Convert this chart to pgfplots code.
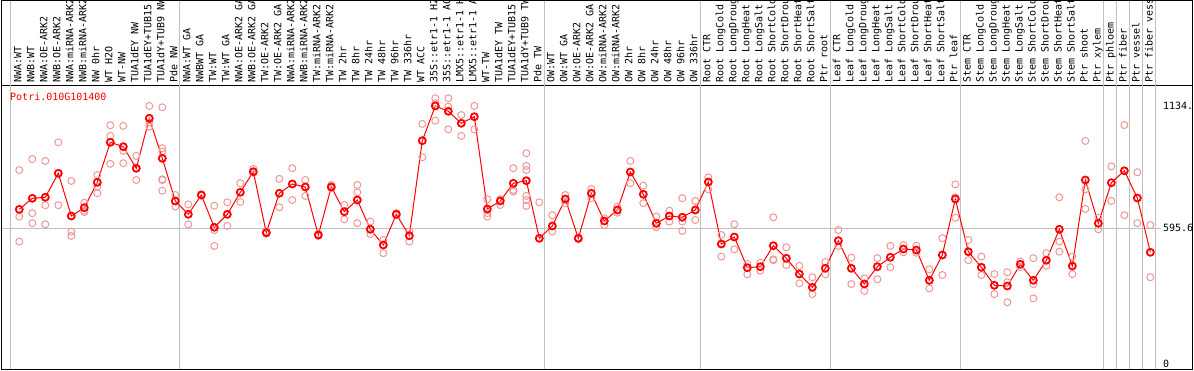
\documentclass[border=0pt]{standalone}
\usepackage{fontspec}
\setmonofont{DejaVu Sans Mono}
\usepackage{pgfplots}
\usepackage{pgfplotstable}
\pgfplotsset{compat=1.18}
\definecolor{repc}{RGB}{240,150,150}
\definecolor{sepc}{RGB}{192,192,192}

\pgfplotstableread{
x y
0 679
1 727.5
2 732
3 837.6
4 649.6
5 686.2
6 798
7 974
8 954.7
9 859.6
10 1079.7
11 903.6
12 715.6
13 657.1
14 742.1
15 600
16 657
17 754
18 844.6
19 576.2
20 749.6
21 790.5
22 777.3
23 566
24 777.3
25 668.6
26 720.1
27 591.1
28 522
29 657.1
30 563
31 981.1
32 1134
33 1110.5
34 1057.7
35 1086.7
36 680.5
37 715.6
38 793.6
39 805
40 551.5
41 605.7
42 724.5
43 551.5
44 749.6
45 627.6
46 676.1
47 843.3
48 745.2
49 617.5
50 649.6
51 644
52 676.1
53 799.3
54 526.4
55 557.2
56 422.1
57 426.5
58 519
59 463.5
60 394.4
61 335.8
62 419.4
63 541
64 419.4
65 350.4
66 426.5
67 467.9
68 504.4
69 500
70 366.6
71 478
72 724.5
73 492.5
74 424
75 344.6
76 341.5
77 437
78 366.6
79 454.7
80 591.1
81 429.6
82 808.1
83 617.5
84 796.2
85 848.6
86 728.9
87 489.9
}\means

\pgfplotstableread{
x y
0 852
0 647
0 537
1 900
1 662
1 618
2 892
2 697
2 613
3 974
3 697
4 804
4 581
4 562
5 708
5 673
5 667
6 830
6 779
6 750
7 1049
7 1002
7 879
8 1046
8 936
8 882
9 914
9 860
9 808
10 1134
10 1043
10 1062
11 1128
11 948
11 933
11 811
11 808
11 761
12 742
12 691
13 701
13 613
14 745
14 739
15 695
15 588
15 518
16 710
16 606
17 794
17 711
18 857
18 840
19 581
19 572
20 813
20 688
21 860
21 720
22 808
22 738
23 570
23 562
24 786
24 772
25 698
25 635
26 786
26 754
26 618
27 625
27 570
28 544
28 486
29 662
29 653
30 581
30 537
31 1055
31 908
32 1168
32 1146
32 1069
33 1168
33 1131
33 1031
34 1094
34 1002
35 1134
35 1031
36 723
36 662
36 647
37 723
37 698
38 860
38 764
38 757
39 926
39 870
39 852
39 738
39 720
39 694
40 710
40 551
41 653
41 581
42 742
42 706
43 555
43 548
44 769
44 728
45 640
45 610
46 691
46 664
47 892
47 794
48 783
48 706
49 647
49 600
50 673
50 625
51 728
51 625
51 584
52 716
52 632
53 820
53 767
54 566
54 471
55 613
55 503
56 438
56 393
57 444
57 409
58 644
58 459
58 455
59 512
59 434
60 430
60 353
61 380
61 306
62 447
62 393
63 588
63 518
64 466
64 350
65 375
65 320
66 464
66 371
67 518
67 424
68 522
68 490
69 519
69 488
70 415
70 331
71 552
71 390
72 789
72 732
72 642
73 544
73 455
74 471
74 390
75 394
75 306
76 402
76 358
76 270
77 449
77 425
78 464
78 350
78 287
79 486
79 431
80 732
80 537
80 493
81 471
81 394
82 980
82 767
82 681
83 642
83 591
84 868
84 716
85 1050
85 653
86 842
86 618
87 610
87 380
}\reps

\begin{document}
\begin{tikzpicture}[x=1pt,y=1pt]
\useasboundingbox (0,0) rectangle (1194,370);
\begin{axis}[
  at={(1.5pt,0.5pt)}, anchor=south west,
  scale only axis, width=1191pt, height=284pt,
  xmin=-1.369, xmax=90.246, ymin=-26, ymax=1224,
  axis line style={black, line width=1pt},
  xtick={0,...,87},
  xticklabels={NWA:WT, NWB:WT, NWA:OE-ARK2, NWB:OE-ARK2, NWA:miRNA-ARK2, NWB:miRNA-ARK2, NW 0hr, WT H2O, WT-NW, TUA1dEY NW, TUA1dEY+TUB15, TUA1dY+TUB9 NW, Pde NW,
    NWA:WT GA, NWBWT GA, TW:WT, TW:WT GA, NWA:OE-ARK2 GA, NWB:OE-ARK2 GA, TW:OE-ARK2, TW:OE-ARK2 GA, NWA:miRNA-ARK2, NWB:miRNA-ARK2, TW:miRNA-ARK2, TW:miRNA-ARK2, TW 2hr, TW 8hr, TW 24hr, TW 48hr, TW 96hr, TW 336hr, WT ACC, 35S::etr1-1 H2O, 35S::etr1-1 ACC, LMX5::etr1-1 H2O, LMX5::etr1-1 ACC, WT-TW, TUA1dEY TW, TUA1dEY+TUB15, TUA1dY+TUB9 TW, Pde TW,
    OW:WT, OW:WT GA, OW:OE-ARK2, OW:OE-ARK2 GA, OW:miRNA-ARK2, OW:miRNA-ARK2, OW 2hr, OW 8hr, OW 24hr, OW 48hr, OW 96hr, OW 336hr,
    Root CTR, Root LongCold, Root LongDrought, Root LongHeat, Root LongSalt, Root ShortCold, Root ShortDrought, Root ShortHeat, Root ShortSalt, Ptr root,
    Leaf CTR, Leaf LongCold, Leaf LongDrought, Leaf LongHeat, Leaf LongSalt, Leaf ShortCold, Leaf ShortDrought, Leaf ShortHeat, Leaf ShortSalt, Ptr leaf,
    Stem CTR, Stem LongCold, Stem LongDrought, Stem LongHeat, Stem LongSalt, Stem ShortCold, Stem ShortDrought, Stem ShortHeat, Stem ShortSalt, Ptr shoot, Ptr xylem,
    Ptr phloem, Ptr fiber, Ptr vessel, Ptr fiber vessel},
  xticklabel pos=upper,
  xticklabel style={rotate=90, anchor=mid west, font=\ttfamily\fontsize{10}{12}\selectfont, inner xsep=3pt, inner ysep=0pt, text=black},
  major tick length=0pt,
  ytick=\empty,
  clip=false,
]
\draw[sepc, line width=1pt] (axis cs:-1.369,595.6) -- (axis cs:87.82,595.6);
\pgfplotsinvokeforeach{-0.64,12.36,40.36,52.36,62.36,72.36,83.36,84.36,85.36,86.36,87.36}{
  \draw[sepc, line width=1pt] (axis cs:#1,-26) -- (axis cs:#1,1600.4);
}
\addplot[only marks, mark=o, mark size=3.5pt, color=repc, mark options={line width=1pt}] table {\reps};
\addplot[red, line width=1pt, mark=o, mark size=3.5pt, mark options={line width=1.8pt}] table {\means};
\node[anchor=west, inner sep=0pt, font=\ttfamily\fontsize{10}{12}\selectfont] at (axis cs:87.97,1134) {1134.};
\node[anchor=west, inner sep=0pt, font=\ttfamily\fontsize{10}{12}\selectfont] at (axis cs:87.97,595.6) {595.6};
\node[anchor=west, inner sep=0pt, font=\ttfamily\fontsize{10}{12}\selectfont] at (axis cs:87.97,0) {0};
\end{axis}
\node[anchor=west, inner sep=0pt, text=red, font=\ttfamily\fontsize{10}{12}\selectfont] at (10,273) {Potri.010G101400};
\draw[black, line width=1pt] (1.5,0.5) rectangle (1192.5,369.5);
\end{tikzpicture}
\end{document}
